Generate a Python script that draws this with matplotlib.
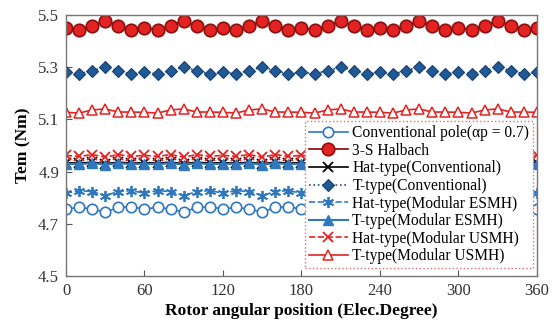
import matplotlib
matplotlib.use("Agg")
import matplotlib.pyplot as plt

plt.rcParams['font.family'] = ['Liberation Serif', 'DejaVu Serif']

angle = list(range(0, 361, 10))

conv_pole = [4.756, 4.763, 4.756, 4.744, 4.763, 4.765, 4.756, 4.763, 4.756, 4.744, 4.763, 4.765,
             4.756, 4.763, 4.756, 4.744, 4.763, 4.765, 4.756, 4.763, 4.756, 4.744, 4.763, 4.765,
             4.756, 4.763, 4.756, 4.744, 4.763, 4.765, 4.756, 4.763, 4.756, 4.744, 4.763, 4.765, 4.756]
halbach = [5.451, 5.443, 5.459, 5.477, 5.459, 5.443, 5.451, 5.443, 5.459, 5.477, 5.459, 5.443,
           5.451, 5.443, 5.459, 5.477, 5.459, 5.443, 5.451, 5.443, 5.459, 5.477, 5.459, 5.443,
           5.451, 5.443, 5.459, 5.477, 5.459, 5.443, 5.451, 5.443, 5.459, 5.477, 5.459, 5.443, 5.451]
hat_conv = [4.934, 4.932, 4.936, 4.930, 4.936, 4.932, 4.934, 4.932, 4.936, 4.930, 4.936, 4.932,
            4.934, 4.932, 4.936, 4.930, 4.936, 4.932, 4.934, 4.932, 4.936, 4.930, 4.936, 4.932,
            4.934, 4.932, 4.936, 4.930, 4.936, 4.932, 4.934, 4.932, 4.936, 4.930, 4.936, 4.932, 4.934]
t_conv = [5.280, 5.274, 5.287, 5.300, 5.287, 5.274, 5.280, 5.274, 5.287, 5.300, 5.287, 5.274,
          5.280, 5.274, 5.287, 5.300, 5.287, 5.274, 5.280, 5.274, 5.287, 5.300, 5.287, 5.274,
          5.280, 5.274, 5.287, 5.300, 5.287, 5.274, 5.280, 5.274, 5.287, 5.300, 5.287, 5.274, 5.280]
hat_esmh = [4.817, 4.827, 4.823, 4.808, 4.823, 4.827, 4.817, 4.827, 4.823, 4.808, 4.823, 4.827,
            4.817, 4.827, 4.823, 4.808, 4.823, 4.827, 4.817, 4.827, 4.823, 4.808, 4.823, 4.827,
            4.817, 4.827, 4.823, 4.808, 4.823, 4.827, 4.817, 4.827, 4.823, 4.808, 4.823, 4.827, 4.817]
t_esmh = [4.930, 4.928, 4.932, 4.926, 4.932, 4.928, 4.930, 4.928, 4.932, 4.926, 4.932, 4.928,
          4.930, 4.928, 4.932, 4.926, 4.932, 4.928, 4.930, 4.928, 4.932, 4.926, 4.932, 4.928,
          4.930, 4.928, 4.932, 4.926, 4.932, 4.928, 4.930, 4.928, 4.932, 4.926, 4.932, 4.928, 4.930]
hat_usmh = [4.962, 4.958, 4.965, 4.955, 4.965, 4.958, 4.962, 4.958, 4.965, 4.955, 4.965, 4.958,
            4.962, 4.958, 4.965, 4.955, 4.965, 4.958, 4.962, 4.958, 4.965, 4.955, 4.965, 4.958,
            4.962, 4.958, 4.965, 4.955, 4.965, 4.958, 4.962, 4.958, 4.965, 4.955, 4.965, 4.958, 4.962]
t_usmh = [5.127, 5.124, 5.136, 5.140, 5.128, 5.128, 5.127, 5.124, 5.136, 5.140, 5.128, 5.128,
          5.127, 5.124, 5.136, 5.140, 5.128, 5.128, 5.127, 5.124, 5.136, 5.140, 5.128, 5.128,
          5.127, 5.124, 5.136, 5.140, 5.128, 5.128, 5.127, 5.124, 5.136, 5.140, 5.128, 5.128, 5.127]

xticks = [0, 60, 120, 180, 240, 300, 360]
yticks = [4.5, 4.7, 4.9, 5.1, 5.3, 5.5]

blue = '#2f78c0'
dblue = '#1d5a96'
red = '#e32222'

fig = plt.figure(figsize=(5.57, 3.25), dpi=100)
ax = fig.add_axes([0.1185, 0.151, 0.8455, 0.803])

ax.plot(angle, conv_pole, '-', color=blue, lw=1.2, marker='o', ms=7.5, mfc='white', mec=blue, mew=1.2,
        label='Conventional pole(\u03b1p = 0.7)')
ax.plot(angle, halbach, '-', color='#8b0000', lw=1.2, marker='o', ms=9, mfc=red, mec='#8b1010', mew=1.2,
        label='3-S Halbach')
ax.plot(angle, hat_conv, '-', color='black', lw=1.2, marker='x', ms=7, mec='black', mew=1.3,
        label='Hat-type(Conventional)')
ax.plot(angle, t_conv, ':', color='#1a4f80', lw=1.2, marker='D', ms=6, mfc=dblue, mec='#1a3f70', mew=0.8,
        label='T-type(Conventional)')
ax.plot(angle, hat_esmh, '--', color=blue, lw=1.2, marker=(6, 2, 0), ms=8, mec=blue, mew=1.3,
        label='Hat-type(Modular ESMH)')
ax.plot(angle, t_esmh, '-', color=blue, lw=1.5, marker='^', ms=7.5, mfc=blue, mec=blue,
        label='T-type(Modular ESMH)')
ax.plot(angle, hat_usmh, '--', color=red, lw=1.2, marker='x', ms=7.5, mec=red, mew=1.3,
        label='Hat-type(Modular USMH)')
ax.plot(angle, t_usmh, '-', color=red, lw=1.2, marker='^', ms=7.5, mfc='white', mec=red, mew=1.1,
        label='T-type(Modular USMH)')

ax.set_xlim(0, 360)
ax.set_ylim(4.5, 5.5)
ax.set_xticks(xticks)
ax.set_yticks(yticks)
ax.set_yticklabels([f'{v:.1f}' for v in yticks])
ax.tick_params(direction='in', length=4, labelsize=12, colors='#555555', labelcolor='#333333', pad=5)
for s in ax.spines.values():
    s.set_color('#777777')
    s.set_linewidth(1.0)

ax.set_xlabel('Rotor angular position (Elec.Degree)', fontsize=12.5, fontweight='bold', labelpad=3)
ax.set_ylabel('Tem (Nm)', fontsize=12.5, fontweight='bold', labelpad=5)

leg = ax.legend(loc='lower right', bbox_to_anchor=(0.992, 0.03), fontsize=11.2, frameon=True,
                fancybox=False, handlelength=2.5, handletextpad=0.3, borderpad=0.25,
                labelspacing=0.1, borderaxespad=0)
frame = leg.get_frame()
frame.set_edgecolor('#e07070')
frame.set_linestyle(':')
frame.set_linewidth(1.0)
frame.set_facecolor('white')
frame.set_alpha(1)

fig.savefig('out.png', dpi=100)
